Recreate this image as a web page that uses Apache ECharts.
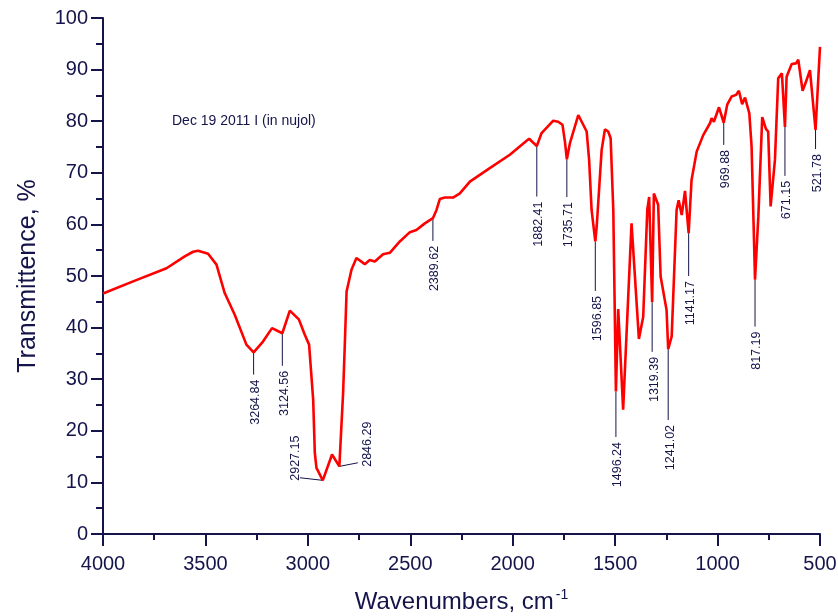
<!DOCTYPE html>
<html>
<head>
<meta charset="utf-8">
<script src="https://cdn.jsdelivr.net/npm/echarts@6/dist/echarts.min.js"></script>
<style>
  html, body { margin: 0; padding: 0; background: #fff; }
  #chart { width: 838px; height: 616px; }
</style>
</head>
<body>
<div id="chart"></div>
<script>
// IR spectrum (wavenumber cm-1, transmittance %)
const waves = [
  4000, 3850, 3690, 3601, 3560, 3536, 3487, 3446, 3406, 3357,
  3300, 3264.84, 3219, 3175, 3124.56, 3088, 3044, 3015, 2994, 2974,
  2966, 2958, 2927.15, 2882, 2846.29, 2828, 2820, 2811, 2787, 2763,
  2722, 2698, 2673, 2633, 2600, 2551, 2502, 2470, 2429, 2389.62,
  2372, 2356, 2331, 2291, 2258, 2209, 2112, 2014, 1957, 1920,
  1882.41, 1859, 1802, 1778, 1757, 1745, 1735.71, 1721, 1680, 1639,
  1627, 1615, 1596.85, 1590, 1566, 1550, 1534, 1522, 1509, 1496.24,
  1485, 1461, 1420, 1384, 1363, 1343, 1334, 1319.39, 1311, 1290,
  1278, 1249, 1241.02, 1224, 1200, 1190, 1175, 1159, 1141.17, 1127,
  1102, 1070, 1037, 1029, 1018, 993, 969.88, 953, 931, 910,
  896, 880, 866, 845, 834, 817.19, 801, 782, 764, 753,
  741, 720, 704, 686, 671.15, 663, 638, 617, 606, 585,
  568, 549, 521.78, 500
];
const trans = [
  46.6, 49.0, 51.5, 53.8, 54.7, 54.9, 54.3, 52.2, 46.7, 42.5,
  36.7, 35.2, 37.3, 39.9, 38.9, 43.3, 41.6, 38.6, 36.7, 26.0,
  15.7, 12.8, 10.4, 15.4, 13.1, 27.3, 36.3, 47.0, 51.2, 53.5,
  52.3, 53.1, 52.8, 54.2, 54.5, 56.7, 58.5, 58.9, 60.2, 61.2,
  62.8, 64.9, 65.2, 65.2, 66.0, 68.3, 70.9, 73.5, 75.4, 76.6,
  75.2, 77.7, 80.1, 79.9, 79.3, 76.0, 72.6, 75.7, 81.2, 78.0,
  72.5, 62.8, 56.7, 59.6, 74.4, 78.4, 78.0, 76.7, 62.8, 27.6,
  43.6, 24.1, 60.2, 37.8, 42.1, 62.9, 65.3, 44.9, 66.0, 63.8,
  49.9, 43.4, 35.8, 38.3, 62.8, 64.7, 61.8, 66.5, 58.3, 68.6,
  74.1, 77.3, 79.6, 80.6, 79.9, 82.7, 79.7, 83.2, 84.8, 85.1,
  85.9, 83.3, 84.6, 81.5, 75.1, 49.3, 61.5, 80.8, 78.5, 78.0,
  63.5, 72.5, 88.3, 89.3, 78.9, 88.6, 91.1, 91.2, 91.9, 85.9,
  87.7, 89.9, 78.3, 94.4
];

// peak picks: position, curve value, and where the leader line ends
const peakLabels = ['3264.84', '3124.56', '2927.15', '2846.29', '2389.62', '1882.41', '1735.71',
  '1596.85', '1496.24', '1319.39', '1241.02', '1141.17', '969.88', '817.19', '671.15', '521.78'];
const peakWaves = [3264.84, 3124.56, 2927.15, 2846.29, 2389.62, 1882.41, 1735.71,
  1596.85, 1496.24, 1319.39, 1241.02, 1141.17, 969.88, 817.19, 671.15, 521.78];
const peakTrans = [35.2, 38.9, 10.4, 13.1, 61.2, 75.2, 72.6, 56.7, 27.6, 44.9, 35.8, 58.3, 79.7, 49.3, 78.9, 78.3];
const leaderEndWaves = [3264.84, 3124.56, 3039, 2756, 2389.62, 1882.41, 1735.71,
  1596.85, 1496.24, 1319.39, 1241.02, 1141.17, 969.88, 817.19, 671.15, 521.78];
const leaderEndTrans = [30.9, 32.6, 10.9, 13.8, 56.8, 65.4, 65.3, 47.1, 18.8, 35.3, 22.1, 50.0, 75.4, 40.2, 69.4, 74.6];

const navy = '#14144a';
const font = 'Liberation Sans, Arial, Helvetica, sans-serif';

const chart = echarts.init(document.getElementById('chart'));

const spectrum = waves.map((w, i) => [w, trans[i]]);
const peaks = peakWaves.map((w, i) => [w, peakTrans[i], leaderEndWaves[i], leaderEndTrans[i]]);

chart.setOption({
  animation: false,
  grid: { left: 103, right: 18, top: 18, bottom: 82, containLabel: false, outerBoundsMode: 'none' },
  graphic: [{
    type: 'text',
    left: 172,
    top: 114,
    style: { text: 'Dec 19 2011 I (in nujol)', font: '14px ' + font, fill: navy }
  }],
  xAxis: {
    type: 'value',
    inverse: true,
    min: 500,
    max: 4000,
    interval: 500,
    name: '{a|Wavenumbers, cm}{s|-1}',
    nameLocation: 'middle',
    nameGap: 54,
    nameTextStyle: {
      rich: {
        a: { fontSize: 24, fontFamily: font, color: navy },
        s: { fontSize: 14, fontFamily: font, color: navy, verticalAlign: 'top', padding: [0, 0, 14, 2] }
      }
    },
    axisLine: { show: true, lineStyle: { color: navy, width: 2 } },
    axisTick: { show: true, length: 12, lineStyle: { color: navy, width: 2 } },
    minorTick: { show: true, splitNumber: 2, length: 6, lineStyle: { color: navy, width: 2 } },
    splitLine: { show: false },
    axisLabel: { fontSize: 20, fontFamily: font, color: navy, margin: 20, formatter: v => String(v) }
  },
  yAxis: {
    type: 'value',
    min: 0,
    max: 100,
    interval: 10,
    name: 'Transmittence, %',
    nameLocation: 'middle',
    nameGap: 62,
    nameTextStyle: { fontSize: 25, fontFamily: font, color: navy },
    axisLine: { show: true, lineStyle: { color: navy, width: 2 } },
    axisTick: { show: true, length: 12, lineStyle: { color: navy, width: 2 } },
    minorTick: { show: true, splitNumber: 2, length: 7, lineStyle: { color: navy, width: 2 } },
    splitLine: { show: false },
    axisLabel: { fontSize: 20, fontFamily: font, color: navy, margin: 15 }
  },
  series: [
    {
      type: 'custom',
      z: 1,
      data: peaks,
      encode: { x: 0, y: 1 },
      renderItem: function (params, api) {
        const i = params.dataIndex;
        const p = api.coord([api.value(0), api.value(1)]);
        const e = api.coord([api.value(2), api.value(3)]);
        let tx, ty, align;
        if (api.value(0) === api.value(2)) {
          tx = e[0] + 2; ty = e[1] + 5; align = 'right';
        } else if (e[0] < p[0]) {
          tx = e[0] - 4; ty = e[1] + 3; align = 'left';
        } else {
          tx = e[0] + 10; ty = e[1] + 4; align = 'left';
        }
        return {
          type: 'group',
          children: [
            { type: 'line', shape: { x1: p[0], y1: p[1], x2: e[0], y2: e[1] },
              style: { stroke: navy, lineWidth: 1 } },
            { type: 'text', x: tx, y: ty, rotation: Math.PI / 2,
              style: { text: peakLabels[i], align: align, verticalAlign: 'middle',
                       font: '12.5px ' + font, fill: navy } }
          ]
        };
      }
    },
    {
      type: 'line',
      z: 2,
      data: spectrum,
      symbol: 'none',
      lineStyle: { color: '#ff0000', width: 2.6 }
    }
  ]
});
</script>
</body>
</html>
